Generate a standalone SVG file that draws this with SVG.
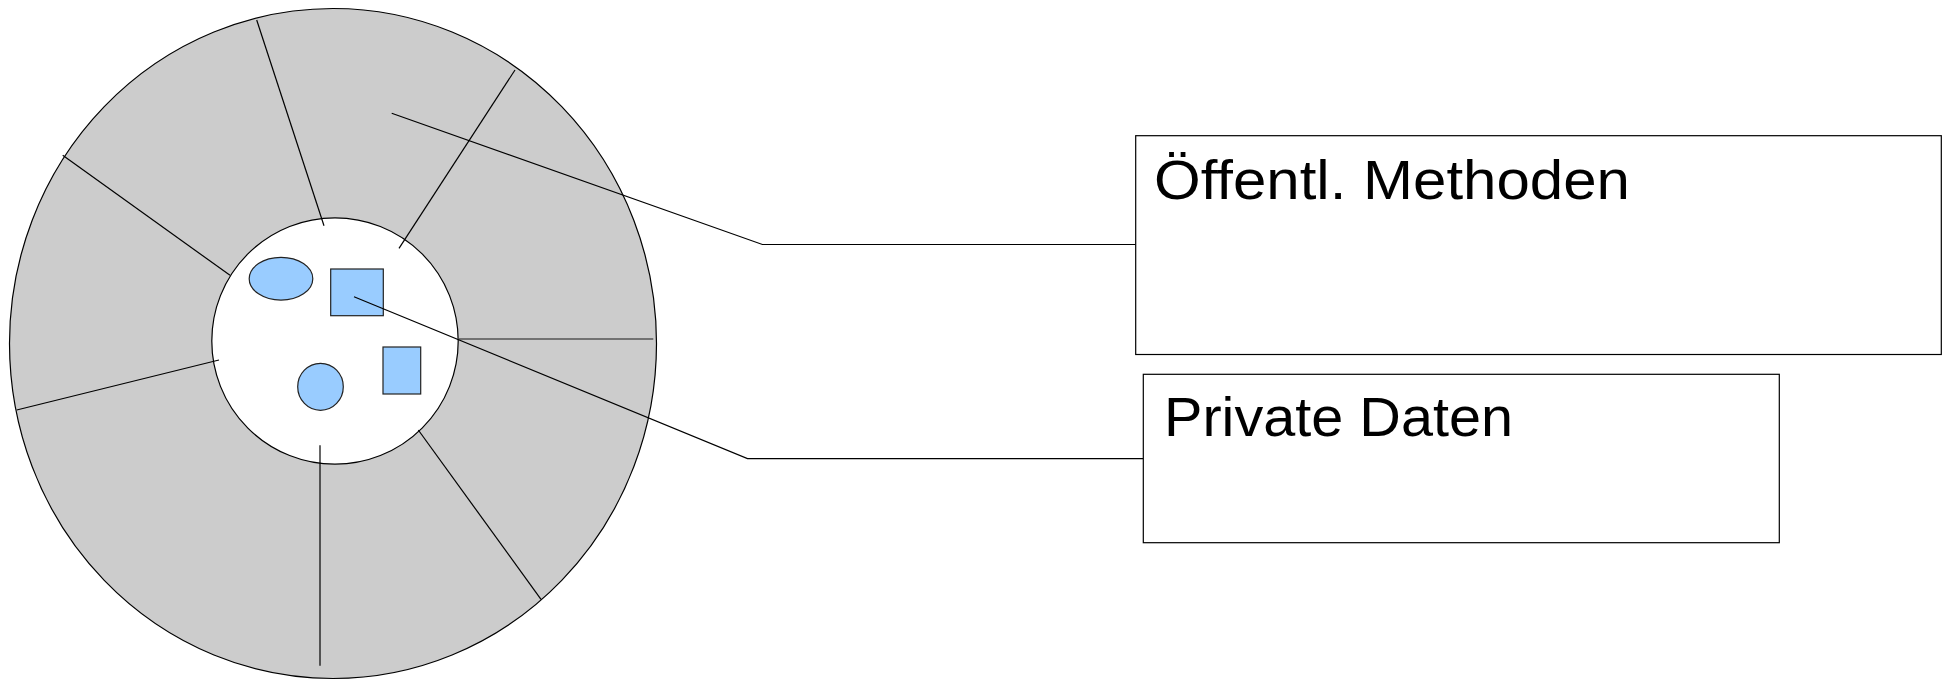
<svg xmlns="http://www.w3.org/2000/svg" width="1947" height="680" viewBox="0 0 1947 680">
<style>
.ln{fill:none;stroke:#000;stroke-width:1.2}
.blue{fill:#99ccff;stroke:#222;stroke-width:1.2}
.box{fill:#fff;stroke:#000;stroke-width:1.2}
.lbl{font-family:"Liberation Sans",Arial,sans-serif;font-size:56px;fill:#000}
</style>
<rect width="1947" height="680" fill="#fff"/>
<g id="wheel">
<ellipse cx="333" cy="343.5" rx="323.5" ry="335" fill="#cccccc" stroke="#000" stroke-width="1.2"/>
<circle cx="335" cy="341" r="123.2" fill="#fff" stroke="#000" stroke-width="1.2"/>
<line class="ln" x1="256.7" y1="20" x2="324" y2="225.7"/>
<line class="ln" x1="62.7" y1="155.3" x2="230" y2="275.3"/>
<line class="ln" x1="515" y1="70" x2="399" y2="248.3"/>
<line x1="458.3" y1="339" x2="653.3" y2="339" stroke="#555" stroke-width="1.6"/>
<line class="ln" x1="16.7" y1="410" x2="219" y2="360"/>
<line class="ln" x1="320" y1="445.3" x2="320" y2="665.7"/>
<line class="ln" x1="418.3" y1="430" x2="541" y2="599.3"/>
</g>
<g id="shapes">
<ellipse class="blue" cx="281" cy="278.7" rx="31.8" ry="21.4"/>
<rect class="blue" x="330.7" y="269" width="52.6" height="46.7"/>
<rect class="blue" x="383" y="347" width="37.7" height="47"/>
<ellipse class="blue" cx="320.5" cy="386.8" rx="22.8" ry="23.5"/>
</g>
<g id="connectors">
<polyline class="ln" points="391.7,113.3 762.4,244.5 1135.7,244.5"/>
<polyline class="ln" points="354,296.7 747.5,458.6 1143.3,458.6"/>
</g>
<g id="node-methoden">
<rect class="box" x="1135.7" y="135.7" width="805.6" height="218.8"/>
<text class="lbl" x="1154" y="199" textLength="476" lengthAdjust="spacingAndGlyphs">Öffentl. Methoden</text>
</g>
<g id="node-daten">
<rect class="box" x="1143.3" y="374.3" width="636" height="168.4"/>
<text class="lbl" x="1164" y="436" textLength="349" lengthAdjust="spacingAndGlyphs">Private Daten</text>
</g>
</svg>
